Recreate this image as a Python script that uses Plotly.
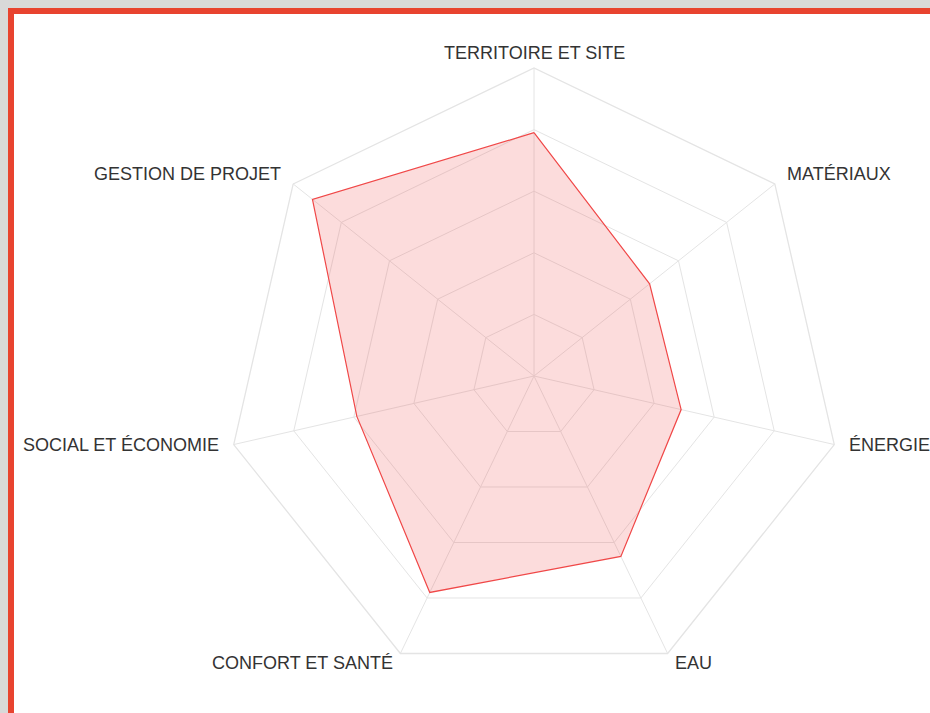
import math
import plotly.graph_objects as go

categories = ["TERRITOIRE ET SITE", "MATÉRIAUX", "ÉNERGIE", "EAU",
              "CONFORT ET SANTÉ", "SOCIAL ET ÉCONOMIE", "GESTION DE PROJET"]
values = [79, 48, 49, 65, 78, 59, 92]
grid_levels = [20, 40, 60, 80, 100]

W, H = 930, 713
cx, cy, R = 534, 376, 308      # polar centre / outer radius in pixels
LABEL_PAD = 13                  # label distance outside the outer ring

fig = go.Figure()
fig.add_trace(go.Scatterpolar(
    r=values + values[:1],
    theta=categories + categories[:1],
    mode="lines",
    fill="toself",
    fillcolor="rgba(240,80,80,0.2)",
    line=dict(color="#f04848", width=1.2),
    hoverinfo="skip",
    showlegend=False,
))

# point labels placed just outside each outer vertex (Chart.js style)
annotations = []
n = len(categories)
for i, name in enumerate(categories):
    a = 2 * math.pi * i / n
    s, c = math.sin(a), math.cos(a)
    px = cx + (R + LABEL_PAD) * s
    py = cy - (R + LABEL_PAD) * c
    xanchor = "center" if abs(s) < 0.05 else ("left" if s > 0 else "right")
    annotations.append(dict(
        x=px / W, y=(H - py) / H, xref="paper", yref="paper",
        text=name, showarrow=False, xanchor=xanchor, yanchor="middle",
        yshift=2,
        font=dict(family="Liberation Sans, Arial", size=18, color="#333333"),
    ))

grid_col = "#e4e4e4"
fig.update_layout(
    width=W, height=H,
    margin=dict(l=0, r=0, t=0, b=0),
    paper_bgcolor="#d9d9d9",
    polar=dict(
        domain=dict(x=[(cx - R) / W, (cx + R) / W],
                    y=[(H - cy - R) / H, (H - cy + R) / H]),
        bgcolor="rgba(0,0,0,0)",
        gridshape="linear",
        radialaxis=dict(range=[0, 100], tickvals=grid_levels,
                        showticklabels=False, ticks="", showline=False,
                        gridcolor=grid_col, gridwidth=1.3),
        angularaxis=dict(direction="clockwise", rotation=90,
                         categoryorder="array", categoryarray=categories,
                         gridcolor=grid_col, gridwidth=1.3,
                         linecolor=grid_col, linewidth=1.3,
                         ticks="", showticklabels=False),
    ),
    annotations=annotations,
    shapes=[dict(type="rect", xref="paper", yref="paper", layer="below",
                 x0=11 / W, x1=1.2, y0=-0.2, y1=1 - 11 / H,
                 line=dict(color="#e8432f", width=6), fillcolor="white")],
)

fig.write_html(
    "out.html",
    config={"displayModeBar": False},
    post_script="document.body.style.margin='0';document.body.style.background='#d9d9d9';",
)
